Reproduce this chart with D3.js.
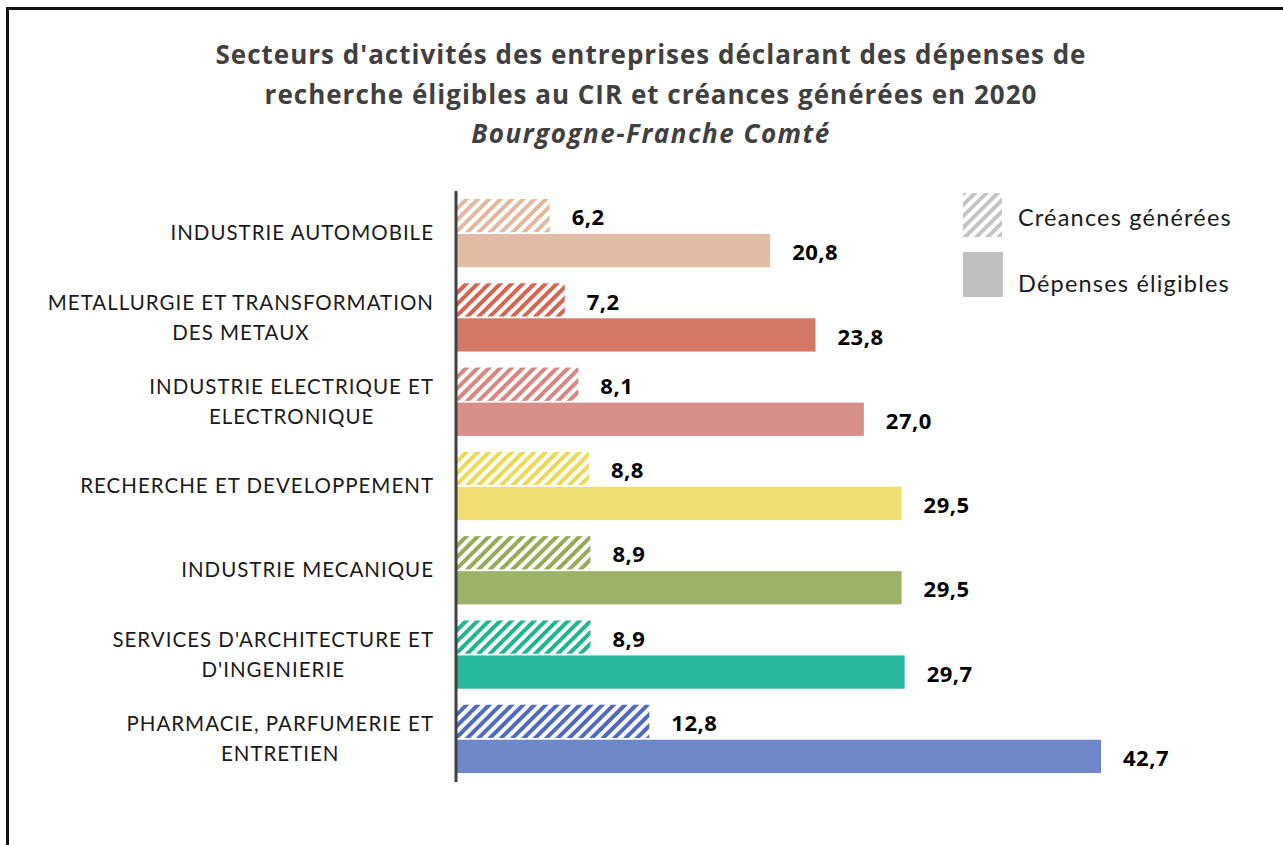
<!DOCTYPE html>
<meta charset="utf-8">
<script src="https://d3js.org/d3.v7.min.js"></script>
<style>
  body { margin: 0; background: #fff; }
</style>
<div id="my_dataviz"></div>
<script>
  // data
  var sectors = [
    ["INDUSTRIE AUTOMOBILE"],
    ["METALLURGIE ET TRANSFORMATION", "DES METAUX"],
    ["INDUSTRIE ELECTRIQUE ET", "ELECTRONIQUE"],
    ["RECHERCHE ET DEVELOPPEMENT"],
    ["INDUSTRIE MECANIQUE"],
    ["SERVICES D'ARCHITECTURE ET", "D'INGENIERIE"],
    ["PHARMACIE, PARFUMERIE ET", "ENTRETIEN"]
  ];
  var creances = [6.2, 7.2, 8.1, 8.8, 8.9, 8.9, 12.8];
  var depenses = [20.8, 23.8, 27.0, 29.5, 29.5, 29.7, 42.7];
  var seriesNames = ["Créances générées", "Dépenses éligibles"];

  // colours per sector
  var solidColors = ["#E2BBA4", "#D27865", "#D88E89", "#F0DE72", "#9CB267", "#27B99B", "#6F86C8"];
  var hatchColors = ["#E3B89E", "#D4654F", "#D98580", "#EED955", "#93AC56", "#1EB595", "#5069C2"];

  var W = 1283, H = 845;
  var svg = d3.select("#my_dataviz").append("svg")
    .attr("width", W).attr("height", H)
    .style("font-family", "'Open Sans', sans-serif");

  var defs = svg.append("defs");
  function hatch(id, color) {
    var p = defs.append("pattern")
      .attr("id", id)
      .attr("patternUnits", "userSpaceOnUse")
      .attr("width", 8).attr("height", 8)
      .attr("patternTransform", "rotate(45)");
    p.append("rect").attr("x", 0).attr("y", 0).attr("width", 4).attr("height", 8).attr("fill", color);
  }
  hatchColors.forEach(function(c, i) { hatch("hatch" + i, c); });
  hatch("hatchLegend", "#C4C4C4");

  // frame
  svg.append("rect")
    .attr("x", 7.5).attr("y", 8.5).attr("width", 1400).attr("height", 1000)
    .attr("fill", "none").attr("stroke", "#111").attr("stroke-width", 3);

  // title
  var title = svg.append("text")
    .attr("text-anchor", "middle")
    .attr("fill", "#404040")
    .style("font-size", "26px")
    .style("letter-spacing", "1px")
    .style("font-weight", "bold");
  title.append("tspan").attr("x", 651).attr("y", 64).text("Secteurs d'activités des entreprises déclarant des dépenses de");
  title.append("tspan").attr("x", 651).attr("y", 104).text("recherche éligibles au CIR et créances générées en 2020");
  title.append("tspan").attr("x", 651).attr("y", 143).style("font-style", "italic")
    .style("letter-spacing", "1.5px").text("Bourgogne-Franche Comté");

  // scales
  var x = d3.scaleLinear().domain([0, 42.7]).range([456, 1101]);
  var y = d3.scaleBand()
    .domain(d3.range(sectors.length))
    .range([191, 781])
    .paddingInner(0.19)
    .paddingOuter(0.095);
  var sub = d3.scaleBand()
    .domain([0, 1])
    .range([0, y.bandwidth()])
    .paddingInner(0.05);

  var groups = svg.selectAll("g.sector")
    .data(sectors)
    .enter().append("g")
      .attr("class", "sector")
      .attr("transform", function(d, i) { return "translate(0," + y(i) + ")"; });

  // hatched bars (créances)
  groups.append("rect")
    .attr("x", x(0))
    .attr("y", sub(0))
    .attr("width", function(d, i) { return x(creances[i]) - x(0); })
    .attr("height", sub.bandwidth())
    .attr("fill", function(d, i) { return "url(#hatch" + i + ")"; });

  // solid bars (dépenses)
  groups.append("rect")
    .attr("x", x(0))
    .attr("y", sub(1))
    .attr("width", function(d, i) { return x(depenses[i]) - x(0); })
    .attr("height", sub.bandwidth())
    .attr("fill", function(d, i) { return solidColors[i]; });

  // value labels
  var fmt = function(v) { return d3.format(".1f")(v).replace(".", ","); };
  groups.append("text")
    .attr("x", function(d, i) { return x(creances[i]) + 22; })
    .attr("y", sub(0) + sub.bandwidth() / 2 + 2)
    .attr("dy", "0.35em")
    .style("font-size", "22px").style("font-weight", "bold").style("letter-spacing", "0.5px")
    .attr("fill", "#000")
    .text(function(d, i) { return fmt(creances[i]); });
  groups.append("text")
    .attr("x", function(d, i) { return x(depenses[i]) + 22; })
    .attr("y", sub(1) + sub.bandwidth() / 2 + 2)
    .attr("dy", "0.35em")
    .style("font-size", "22px").style("font-weight", "bold").style("letter-spacing", "0.5px")
    .attr("fill", "#000")
    .text(function(d, i) { return fmt(depenses[i]); });

  // category labels (centered block, right-aligned at 433)
  groups.each(function(lines) {
    var g = d3.select(this);
    var t = g.append("text")
      .attr("text-anchor", "middle")
      .attr("fill", "#1a1a1a")
      .style("font-family", "Lato, sans-serif")
      .style("font-size", "20.5px")
      .style("letter-spacing", "1px");
    var cy = y.bandwidth() / 2;
    var lh = 30;
    lines.forEach(function(l, k) {
      t.append("tspan").attr("x", 0)
        .attr("y", cy + (k - (lines.length - 1) / 2) * lh)
        .attr("dy", "0.35em")
        .text(l);
    });
    var bb = t.node().getBBox();
    t.attr("transform", "translate(" + (434 - bb.width / 2) + ",0)");
  });

  // axis line
  svg.append("line")
    .attr("x1", x(0)).attr("x2", x(0))
    .attr("y1", 191).attr("y2", 782)
    .attr("stroke", "#404040").attr("stroke-width", 3);

  // legend
  var legend = svg.append("g");
  legend.append("rect").attr("x", 963).attr("y", 193).attr("width", 39).attr("height", 44)
    .attr("fill", "url(#hatchLegend)");
  legend.append("rect").attr("x", 963).attr("y", 252).attr("width", 40).attr("height", 45)
    .attr("fill", "#C0C0C0");
  legend.selectAll("text.leg")
    .data(seriesNames)
    .enter().append("text")
      .attr("class", "leg")
      .attr("x", 1018)
      .attr("y", function(d, i) { return 218 + i * 66; })
      .attr("dy", "0.35em")
      .attr("fill", "#1a1a1a")
      .style("font-family", "Lato, sans-serif")
      .style("font-size", "23.5px")
      .style("letter-spacing", "1.2px")
      .text(function(d) { return d; });
</script>
